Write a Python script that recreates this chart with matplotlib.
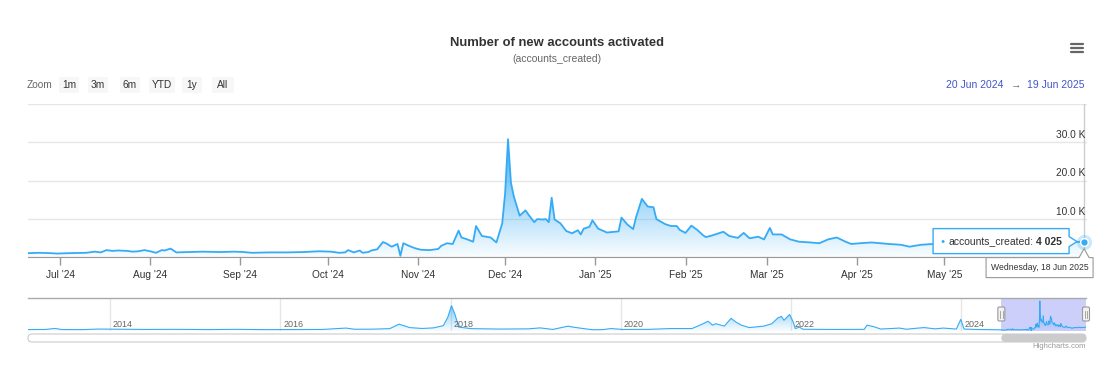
import numpy as np
import pandas as pd
import matplotlib
matplotlib.use("Agg")
import matplotlib.pyplot as plt
import matplotlib.dates as mdates
from matplotlib.patches import FancyBboxPatch, Polygon
from matplotlib.lines import Line2D
from matplotlib.transforms import Affine2D, blended_transform_factory, offset_copy
from matplotlib.colors import to_rgb

plt.rcParams['font.family'] = ['Liberation Sans', 'DejaVu Sans']

W, H = 1103, 384
BLUE = '#36abf5'
RANGE_BLUE = '#4055c8'

# accounts created per day
dates = [
    "2024-06-20", "2024-06-24", "2024-06-28", "2024-06-30", "2024-07-04", "2024-07-10",
    "2024-07-13", "2024-07-15", "2024-07-17", "2024-07-19", "2024-07-21", "2024-07-24",
    "2024-07-26", "2024-07-28", "2024-07-30", "2024-08-01", "2024-08-03", "2024-08-05",
    "2024-08-06", "2024-08-08", "2024-08-10", "2024-08-14", "2024-08-19", "2024-08-25",
    "2024-08-30", "2024-09-02", "2024-09-05", "2024-09-11", "2024-09-17", "2024-09-23",
    "2024-09-28", "2024-10-02", "2024-10-05", "2024-10-07", "2024-10-08", "2024-10-10",
    "2024-10-12", "2024-10-13", "2024-10-15", "2024-10-16", "2024-10-18", "2024-10-20",
    "2024-10-21", "2024-10-23", "2024-10-25", "2024-10-26", "2024-10-27", "2024-10-29",
    "2024-10-31", "2024-11-02", "2024-11-05", "2024-11-08", "2024-11-09", "2024-11-11",
    "2024-11-13", "2024-11-15", "2024-11-16", "2024-11-18", "2024-11-20", "2024-11-21",
    "2024-11-23", "2024-11-26", "2024-11-28", "2024-11-30", "2024-12-01", "2024-12-02",
    "2024-12-03", "2024-12-04", "2024-12-06", "2024-12-08", "2024-12-09", "2024-12-11",
    "2024-12-12", "2024-12-14", "2024-12-15", "2024-12-16", "2024-12-17", "2024-12-18",
    "2024-12-20", "2024-12-22", "2024-12-24", "2024-12-26", "2024-12-27", "2024-12-28",
    "2024-12-30", "2024-12-31", "2025-01-02", "2025-01-05", "2025-01-09", "2025-01-10",
    "2025-01-12", "2025-01-14", "2025-01-15", "2025-01-17", "2025-01-18", "2025-01-19",
    "2025-01-21", "2025-01-22", "2025-01-25", "2025-01-27", "2025-01-29", "2025-01-30",
    "2025-02-01", "2025-02-03", "2025-02-05", "2025-02-07", "2025-02-08", "2025-02-10",
    "2025-02-14", "2025-02-16", "2025-02-19", "2025-02-21", "2025-02-23", "2025-02-26",
    "2025-02-28", "2025-03-02", "2025-03-03", "2025-03-06", "2025-03-09", "2025-03-12",
    "2025-03-16", "2025-03-19", "2025-03-22", "2025-03-25", "2025-03-28", "2025-03-30",
    "2025-04-02", "2025-04-06", "2025-04-12", "2025-04-16", "2025-04-19", "2025-04-23",
    "2025-04-27", "2025-05-03", "2025-05-10", "2025-05-17", "2025-05-24", "2025-05-31",
    "2025-06-07", "2025-06-14", "2025-06-18",
]
accounts = [
    1000, 1100, 1000, 900, 1000, 1100,
    1400, 1200, 1800, 1600, 1700, 1600,
    1400, 1500, 1800, 1500, 1100, 1800,
    1700, 2200, 1200, 1300, 1400, 1300,
    1400, 1300, 1100, 1200, 1200, 1300,
    1500, 1400, 1100, 1200, 1800, 1200,
    1700, 1100, 1300, 1700, 2000, 3900,
    3600, 2700, 3400, 300, 3600, 2900,
    2300, 1900, 1800, 2100, 2900, 3600,
    3400, 6900, 5100, 4600, 4000, 8100,
    5500, 5100, 3800, 8800, 16700, 30800,
    19400, 15800, 10800, 12200, 11100, 9100,
    9900, 9800, 9900, 9100, 15500, 9800,
    8800, 6800, 6200, 7000, 5900, 7400,
    7900, 9600, 7400, 6400, 6700, 10300,
    8500, 7300, 10400, 15200, 14200, 13200,
    13000, 9900, 8600, 8100, 8100, 7100,
    6300, 8200, 7100, 5700, 5200, 5600,
    6600, 5500, 5000, 6300, 4900, 5300,
    4600, 7600, 5900, 5900, 4600, 4000,
    3800, 3600, 4600, 5100, 4000, 3400,
    3600, 3800, 3400, 3200, 2700, 3200,
    3400, 3600, 3400, 3800, 3500, 3700,
    3600, 3900, 4025,
]

# older history, only visible in the navigator strip
hist_dates = [
    "2013-01-15", "2013-04-01", "2013-05-10", "2013-06-10", "2013-09-01", "2013-11-15",
    "2014-02-01", "2014-06-01", "2014-10-01", "2015-03-01", "2015-07-01", "2015-11-01",
    "2016-03-01", "2016-07-01", "2016-10-10", "2016-11-15", "2017-02-01", "2017-04-15",
    "2017-05-25", "2017-07-10", "2017-09-01", "2017-10-20", "2017-12-01", "2017-12-20",
    "2018-01-05", "2018-01-20", "2018-02-05", "2018-04-01", "2018-08-01", "2018-12-01",
    "2019-01-20", "2019-03-15", "2019-05-20", "2019-06-10", "2019-07-15", "2019-09-01",
    "2019-10-15", "2019-11-20", "2020-01-10", "2020-05-01", "2020-07-30", "2020-11-01",
    "2020-12-01", "2021-01-10", "2021-01-28", "2021-02-12", "2021-03-20", "2021-04-18",
    "2021-05-10", "2021-06-01", "2021-07-05", "2021-09-05", "2021-10-10", "2021-11-05",
    "2021-11-20", "2021-12-01", "2021-12-25", "2022-01-10", "2022-01-18", "2022-02-05",
    "2022-02-20", "2022-07-01", "2022-11-10", "2022-11-22", "2022-12-20", "2023-01-20",
    "2023-04-10", "2023-05-10", "2023-06-20", "2023-07-25", "2023-09-10", "2023-10-15",
    "2023-12-10", "2023-12-29", "2024-01-12", "2024-03-01", "2024-06-19",
]
hist_accounts = [
    1500, 1600, 2600, 1500, 1400, 2000,
    1800, 1600, 1700, 1500, 1700, 1400,
    1500, 1600, 3000, 1800, 1900, 2400,
    7000, 3500, 2600, 3200, 5500, 14000,
    26000, 17000, 4000, 2400, 2000, 2200,
    3200, 1600, 5000, 4000, 2800, 1300,
    1400, 2500, 1600, 1700, 2500, 2500,
    5500, 10000, 6000, 7500, 5000, 13000,
    9000, 6000, 3500, 5000, 7500, 13500,
    15000, 11000, 17000, 9000, 2500, 4000,
    1800, 1600, 1700, 6000, 4500, 2000,
    3000, 1800, 2800, 3500, 2200, 3000,
    2000, 12000, 2000, 1600, 1200,
]

y_ticks = [0, 10000, 20000, 30000, 40000]
y_labels = [10000, 20000, 30000]
# month ticks; the June '25 one sits under the date label in the original
month_ticks = pd.date_range('2024-07-01', '2025-05-01', freq='MS')
nav_years = [2014, 2016, 2018, 2020, 2022, 2024]
zoom_buttons = ['1m', '3m', '6m', 'YTD', '1y', 'All']

title = 'Number of new accounts activated'
subtitle = '(accounts_created)'
series_name = 'accounts_created'
range_from = '20 Jun 2024'
range_to = '19 Jun 2025'

x = pd.to_datetime(dates)
y = np.array(accounts, dtype=float)
hx = pd.to_datetime(hist_dates)
hy = np.array(hist_accounts, dtype=float)
xn = mdates.date2num(x)

fig = plt.figure(figsize=(W / 100, H / 100), dpi=100)
# pixel coordinates with origin at the top-left, like the screenshot
pix = Affine2D().scale(1 / W, -1 / H).translate(0, 1) + fig.transFigure


def gradient_area(ax, xs, ys, a_top, a_bot):
    poly = ax.fill_between(xs, 0, ys, color='none', lw=0)
    rgba = np.zeros((256, 1, 4))
    rgba[..., :3] = to_rgb(BLUE)
    rgba[:, 0, 3] = np.linspace(a_bot, a_top, 256)
    x0, x1 = ax.get_xlim()
    y0, y1 = ax.get_ylim()
    im = ax.imshow(rgba, extent=[x0, x1, 0, ys.max()], origin='lower',
                   aspect='auto', zorder=1, interpolation='bilinear')
    im.set_clip_path(poly.get_paths()[0], transform=ax.transData)
    ax.set_xlim(x0, x1)
    ax.set_ylim(y0, y1)


# ---- main chart
ax = fig.add_axes([28 / W, 1 - 257 / H, 1059 / W, 153 / H])
ax.set_xlim(mdates.date2num(pd.Timestamp('2024-06-20')), mdates.date2num(pd.Timestamp('2025-06-19')))
ax.set_ylim(0, 40000)
ax.set_yticks(y_ticks)
ax.grid(axis='y', color='#e6e6e6', lw=1)
ax.set_axisbelow(True)
ax.tick_params(axis='y', length=0, labelleft=False)
for s in ['top', 'left', 'right']:
    ax.spines[s].set_visible(False)
ax.spines['bottom'].set_color('#999999')
ax.set_xticks(mdates.date2num(month_ticks))
ax.xaxis.set_major_formatter(mdates.DateFormatter("%b '%y"))
ax.tick_params(axis='x', length=6, width=1, color='#999999', labelsize=7.3,
               labelcolor='#333333', pad=3)

gradient_area(ax, xn, y, 0.95, 0.03)
ax.plot(xn, y, color=BLUE, lw=1.3, zorder=3, solid_joinstyle='round')

ylab = blended_transform_factory(ax.transAxes, ax.transData)
for v in y_labels:
    ax.text(1.0, v, f'{v / 1000:.1f} K', transform=offset_copy(ylab, fig=fig, x=-2, y=2, units='dots'),
            ha='right', va='bottom', fontsize=7.3, color='#333333')

# hovered point
xl, yl = xn[-1], y[-1]
ax.axvline(xl, color='#cccccc', lw=1, zorder=2)
ax.plot([xl], [yl], 'o', ms=11, color=BLUE, alpha=0.25, mec='none', zorder=4, clip_on=False)
ax.plot([xl], [yl], 'o', ms=5.5, color=BLUE, mec='white', mew=1, zorder=5, clip_on=False)

px, pyd = ax.transData.transform((xl, yl))
py = H - pyd

# tooltip
tl, tr = px - 151, px - 15
tt, tb = py - 13, py + 12
fig.add_artist(Polygon([(tl, tt), (tr, tt), (tr, py - 5), (px - 7, py), (tr, py + 5), (tr, tb), (tl, tb)],
                       closed=True, transform=pix, fc='white', ec=BLUE, lw=1, joinstyle='round', zorder=20))
fig.text(tl + 9, py, '●', transform=pix, fontsize=5, color=BLUE, ha='center', va='center', zorder=21)
t1 = fig.text(tl + 15, py, series_name + ':', transform=pix, fontsize=7.5, color='#333333',
              ha='left', va='center', zorder=21)
renderer = fig.canvas.get_renderer()
bb = t1.get_window_extent(renderer)
fig.text(bb.x1 + 3, py, f'{yl:,.0f}'.replace(',', ' '), transform=pix, fontsize=7.5,
         fontweight='bold', color='#333333', ha='left', va='center', zorder=21)

# date label under the point
dl, dr = px - 98, px + 9
dt, db = py + 16, py + 36
fig.add_artist(Polygon([(dl, dt), (px - 5, dt), (px, py + 7), (px + 5, dt), (dr, dt), (dr, db), (dl, db)],
                       closed=True, transform=pix, fc='white', ec='#999999', lw=0.8, joinstyle='round',
                       zorder=20))
fig.text((dl + dr) / 2, (dt + db) / 2, x[-1].strftime('%A, %d %b %Y'), transform=pix,
         fontsize=6.2, color='#333333', ha='center', va='center', zorder=21)

# ---- navigator
nav = fig.add_axes([28 / W, 1 - 331 / H, 1058 / W, 33.4 / H])
nav_x = mdates.date2num(hx.append(x))
nav_y = np.concatenate([hy, y])
nav.set_xlim(mdates.date2num(pd.Timestamp('2013-01-15')), xn[-1])
nav.set_ylim(0, 34300)
nav.set_axis_off()
yearlab = blended_transform_factory(nav.transData, nav.transAxes)
for yr in nav_years:
    d = mdates.date2num(pd.Timestamp(f'{yr}-01-01'))
    nav.axvline(d, color='#e6e6e6', lw=1, zorder=0)
    nav.text(d, 0.2, str(yr), transform=offset_copy(yearlab, fig=fig, x=3, units='dots'),
             fontsize=6.5, color='#666666', ha='left', va='center', zorder=4)
gradient_area(nav, nav_x, nav_y, 0.7, 0.03)
nav.plot(nav_x, nav_y, color=BLUE, lw=0.8, zorder=3)
m0, m1 = xn[0], xn[-1] + 1
nav.axvspan(m0, m1, color='#6670ee', alpha=0.33, lw=0, zorder=2)

fig.add_artist(Line2D([28, 1086], [297.6, 297.6], transform=pix, color='#aaaaaa', lw=1))
h0 = nav.transData.transform((m0, 0))[0]
h1 = min(nav.transData.transform((m1, 0))[0], 1086)
for hxp in [h0, h1]:
    fig.add_artist(FancyBboxPatch((hxp - 3.5, 307), 7, 14, boxstyle='round,pad=0,rounding_size=1.5',
                                  transform=pix, fc='#f2f2f2', ec='#999999', lw=0.8, zorder=10))
    for dx in [-1.2, 1.2]:
        fig.add_artist(Line2D([hxp + dx, hxp + dx], [310.5, 317.5], transform=pix,
                              color='#999999', lw=0.6, zorder=11))

# scrollbar
fig.add_artist(FancyBboxPatch((28, 334), 1058, 8, boxstyle='round,pad=0,rounding_size=4',
                              transform=pix, fc='white', ec='#cccccc', lw=0.8))
fig.add_artist(FancyBboxPatch((h0, 334), h1 - h0, 8, boxstyle='round,pad=0,rounding_size=4',
                              transform=pix, fc='#cccccc', ec='none'))

# ---- chrome: title, range selector, menu
fig.text(557, 43, title, transform=pix, ha='center', va='center', fontsize=9.4,
         fontweight='bold', color='#333333')
fig.text(557, 59, subtitle, transform=pix, ha='center', va='center', fontsize=7.5, color='#666666')

for yy in [43.5, 47.5, 51.5]:
    fig.add_artist(Line2D([1070.5, 1082.5], [yy, yy], transform=pix, color='#666666', lw=1.6,
                          solid_capstyle='round'))

fig.text(27, 85, 'Zoom', transform=pix, ha='left', va='center', fontsize=7.3, color='#666666')
btn_x = [59, 88, 120, 149, 182, 212]
btn_w = [20, 20, 20, 26, 20, 22]
for lab, bx, bw in zip(zoom_buttons, btn_x, btn_w):
    fig.add_artist(FancyBboxPatch((bx, 77), bw, 16, boxstyle='round,pad=0,rounding_size=2',
                                  transform=pix, fc='#f7f7f7', ec='none'))
    fig.text(bx + bw / 2, 85, lab, transform=pix, ha='center', va='center', fontsize=7.3, color='#333333')

fig.text(1003, 85, range_from, transform=pix, ha='right', va='center', fontsize=7.5, color=RANGE_BLUE)
fig.text(1016, 85, '→', transform=pix, ha='center', va='center', fontsize=7.5, color='#666666')
fig.text(1027, 85, range_to, transform=pix, ha='left', va='center', fontsize=7.5, color=RANGE_BLUE)

fig.text(1086, 347, 'Highcharts.com', transform=pix, ha='right', va='center', fontsize=5.5, color='#999999')

fig.savefig('out.png', dpi=100)
